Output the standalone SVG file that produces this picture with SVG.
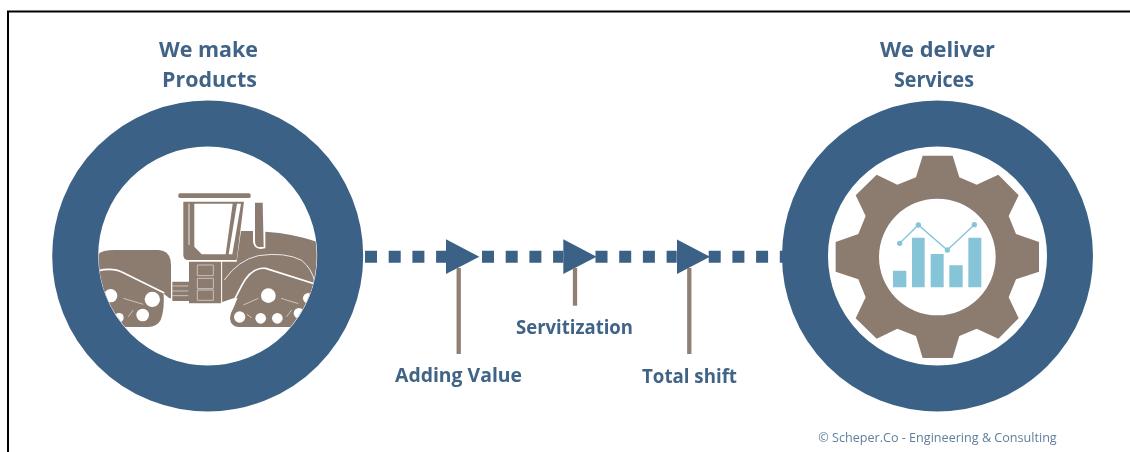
<svg xmlns="http://www.w3.org/2000/svg" width="1130" height="452" viewBox="0 0 1130 452">
<style>
.t{font-family:"Open Sans","Noto Sans",sans-serif;font-weight:700;fill:#3f6487;text-anchor:middle}
.h{font-size:21.500px}
.l{font-size:18.700px}
.ring{fill:none;stroke:#3b6286;stroke-width:46}
.b{fill:#8c7b70}
.w{fill:#fff}
.wl{fill:none;stroke:#fff;stroke-width:5}
.thin{fill:none;stroke:#fff;stroke-width:2.500}
.faint{fill:none;stroke:#d8d0ca;stroke-width:2.500}
.dash{fill:none;stroke:#3b6286;stroke-width:12;stroke-dasharray:12 11.700}
.pole{stroke:#8f7f75;stroke-width:4.300}
.bar{fill:#86c4d8}
</style>
<defs>
<marker id="tri" markerUnits="userSpaceOnUse" markerWidth="34" markerHeight="36" refX="0" refY="18" orient="auto" viewBox="0 0 34 36"><path d="M0 0.600L33.300 18L0 35.400Z" fill="#3b6286"/></marker>
<clipPath id="inner"><circle cx="338" cy="213" r="327"/></clipPath>
<filter id="soft" filterUnits="userSpaceOnUse" x="0" y="0" width="1130" height="452"><feGaussianBlur stdDeviation="0.700"/></filter>
</defs>
<rect width="1130" height="452" fill="#fff"/>
<path id="frame" d="M8 452V11.500H1130" fill="none" stroke="#000" stroke-width="2"/>
<g filter="url(#soft)">
<g id="connectors">
<path class="dash" d="M365 256.700H446" marker-end="url(#tri)"/>
<path class="dash" d="M482 256.700H563.300" marker-end="url(#tri)"/>
<path class="dash" d="M595.500 256.700H676.700" marker-end="url(#tri)"/>
<path class="dash" d="M708.700 256.700H783"/>
<path class="pole" d="M458.700 268V354"/>
<path class="pole" d="M575 268V305.700"/>
<path class="pole" d="M689.300 268V354"/>
</g>
<g id="products">
<circle class="ring" cx="207.700" cy="256" r="132.500"/>
<g transform="translate(95 185) scale(.33333)">
<g clip-path="url(#inner)">
<rect class="b" x="250" y="25" width="217" height="14" rx="5"/>
<path class="b" d="M265 50H447L425 225H280Q265 225 265 210Z"/>
<path class="w" d="M298 56H413L392 208H320L298 185Z"/>
<path class="w" d="M426 56H438L412 208H401Z"/>
<path class="thin" d="M282 56V180"/>
<path class="b" d="M480 53H503L506 186H492Q480 184 480 168Z"/>
<path class="b" d="M438 138H474V170Q476 190 497 192L511 190V140Q600 146 670 172V300L640 340H415L380 352V230H425Z"/>
<path class="thin" d="M388 285Q430 225 490 212Q570 200 620 226Q650 250 660 292"/>
<path class="b" d="M5 215Q12 195 60 195H190Q228 197 228 240V340H5Z"/>
<path class="b" d="M232 290H282V348H232Z"/>
<path class="faint" d="M232 303H280M232 318H280M232 332H280"/>
<path class="b" d="M282 230H378V355H282Z"/>
<path class="faint" d="M307 240H355V272H307ZM307 280H355V311H307ZM307 315H355V346H307Z"/>
<path class="thin" d="M380 230V352"/>
<path class="w" d="M206 326L230 345V420H170L195 340Z"/>
<path class="b" d="M0 258Q50 245 85 262L205 322Q210 370 197 405Q185 426 160 426H0Z"/>
<path class="wl" d="M0 260Q50 245 85 263L208 324"/>
<circle class="w" cx="172" cy="343" r="23"/>
<circle class="w" cx="143" cy="390" r="19"/>
<circle class="w" cx="47" cy="332" r="20"/>
<circle class="w" cx="72" cy="398" r="14"/>
<path class="faint" d="M85 340L145 358M100 395L115 375"/>
<path class="w" d="M378 356H418L400 426H378Z"/>
<path class="b" d="M444 300Q470 246 510 252L680 302V426H430Q406 424 405 398Q406 385 415 370Z"/>
<path class="wl" d="M397 385L440 302Q468 246 512 250L680 303"/>
<circle class="w" cx="520" cy="332" r="22"/>
<circle class="w" cx="434" cy="396" r="17"/>
<circle class="w" cx="497" cy="400" r="16"/>
<circle class="w" cx="547" cy="400" r="16"/>
<circle class="w" cx="612" cy="385" r="16"/>
<circle class="w" cx="640" cy="340" r="16"/>
<path class="faint" d="M445 360L490 340M558 340L610 356M575 395L590 375M455 388L470 398"/>
</g>
</g>
<text class="t h" x="208.500" y="57" textLength="99" lengthAdjust="spacingAndGlyphs">We make</text>
<text class="t h" x="209.500" y="87" textLength="95" lengthAdjust="spacingAndGlyphs">Products</text>
</g>
<g id="services">
<circle class="ring" cx="937.500" cy="256" r="132.500"/>
<g transform="translate(770 90) scale(.33333)">
<path class="b" fill-rule="evenodd" d="M458 197H548L568 262L620 284L685 254L746 316L716 378L738 432L807 456V545L738 568L716 622L746 685L685 746L620 716L568 738L548 804H458L438 738L382 716L320 746L257 685L287 622L265 568L197 545V456L265 432L287 378L257 316L320 254L382 284L438 262ZM677 501A175 175 0 1 0 327 501A175 175 0 1 0 677 501Z"/>
<path class="bar" d="M369 542H409V592H369ZM426 443H464V592H426ZM482 492H521V592H482ZM538 526H578V592H538ZM595 443H634V592H595Z"/>
<path d="M389 460L445 405L532 480L613 404" fill="none" stroke="#86c4d8" stroke-width="4"/>
<g class="bar"><circle cx="389" cy="460" r="8"/><circle cx="445" cy="405" r="8"/><circle cx="532" cy="480" r="8"/><circle cx="613" cy="404" r="8"/></g>
</g>
<text class="t h" x="937.500" y="57" textLength="115" lengthAdjust="spacingAndGlyphs">We deliver</text>
<text class="t h" x="934" y="87" textLength="80" lengthAdjust="spacingAndGlyphs">Services</text>
</g>
<g id="adding-value"><text class="t l" x="458.500" y="382" textLength="127" lengthAdjust="spacingAndGlyphs">Adding Value</text></g>
<g id="servitization"><text class="t l" x="574.500" y="333.500" textLength="117" lengthAdjust="spacingAndGlyphs">Servitization</text></g>
<g id="total-shift"><text class="t l" x="689.500" y="383" textLength="95" lengthAdjust="spacingAndGlyphs">Total shift</text></g>
<g id="credit"><text x="937.500" y="441.500" font-family="'Open Sans','Noto Sans',sans-serif" font-size="12.600" fill="#5f7f9a" text-anchor="middle">© Scheper.Co - Engineering &amp; Consulting</text></g>
</g>
</svg>
